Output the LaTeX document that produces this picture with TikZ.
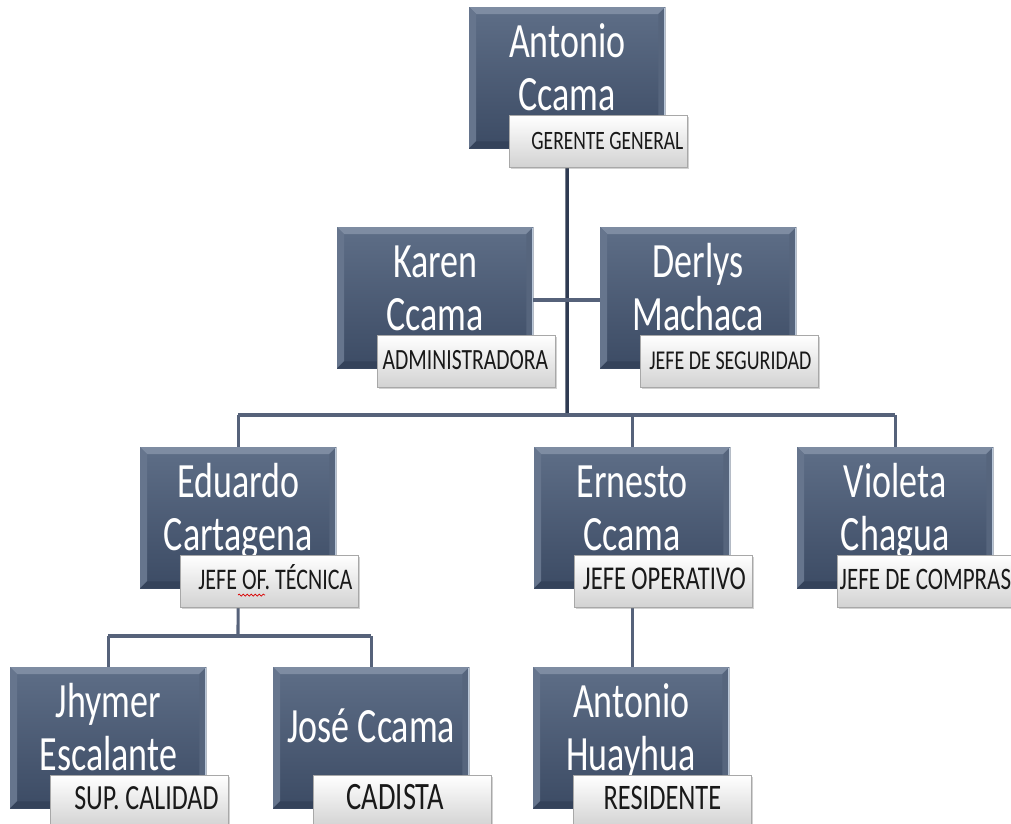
\documentclass[tikz,border=0pt]{standalone}
\usepackage{fontspec}
\setmainfont{Carlito}
\usetikzlibrary{calc,backgrounds,shadows,decorations.pathmorphing}
\definecolor{boxtop}{HTML}{5E6E87}
\definecolor{boxbot}{HTML}{3C4B64}
\definecolor{bevtop}{HTML}{7E8CA2}
\definecolor{bevleft}{HTML}{66758D}
\definecolor{bevright}{HTML}{56657D}
\definecolor{bevbot}{HTML}{34425A}
\definecolor{edgelight}{HTML}{B8C6D8}
\definecolor{lblbot}{HTML}{D2D2D2}
\definecolor{lbldraw}{HTML}{A8A8A8}
\definecolor{conncol}{HTML}{56627A}
\definecolor{mainline}{HTML}{2F3B52}
\tikzset{
  pbox/.style={rectangle, anchor=north west, minimum width=196pt, minimum height=141pt,
    inner sep=0pt, top color=boxtop, bottom color=boxbot, draw=none},
  lbox/.style={rectangle, anchor=north west, minimum width=178pt, minimum height=52pt,
    inner sep=0pt, top color=white, bottom color=lblbot, draw=lbldraw, line width=0.8pt,
    drop shadow={shadow xshift=1.5pt, shadow yshift=-1.5pt, opacity=0.35}},
  ntext/.style={text=white, font=\fontsize{36}{40}\selectfont, anchor=base, inner sep=0pt},
  ltext/.style={text=black!90, anchor=base, inner sep=0pt},
  conn/.style={line width=3.1pt, draw=conncol},
  mainconn/.style={line width=3.5pt, draw=mainline},
}
\newcommand\orgbevel[1]{%
  \fill[bevtop] (#1.north west) -- (#1.north east) -- ($(#1.north east)+(-7,7)$) -- ($(#1.north west)+(7,7)$) -- cycle;
  \fill[bevleft] (#1.north west) -- ($(#1.north west)+(7,7)$) -- ($(#1.south west)+(7,-7)$) -- (#1.south west) -- cycle;
  \fill[bevright] (#1.north east) -- ($(#1.north east)+(-7,7)$) -- ($(#1.south east)+(-7,-7)$) -- (#1.south east) -- cycle;
  \fill[bevbot] (#1.south west) -- ($(#1.south west)+(7,-7)$) -- ($(#1.south east)+(-7,-7)$) -- (#1.south east) -- cycle;
  \draw[edgelight, line width=1pt] ($(#1.north east)+(-0.5,1)$) -- ($(#1.south east)+(-0.5,0)$);
}
\newcommand\orgperson[8]{%
  \node[pbox] (#1) at (#2,#3) {};
  \orgbevel{#1}
  \node[ntext] (#1-a) at ($(#1.north)+(0,50)$) {\scalebox{1}[1.37]{#4}};
  \node[ntext] (#1-b) at ($(#1.north)+(0,103)$) {\scalebox{1}[1.37]{#5}};
  \node[lbox] (#1-l) at ($(#1.north west)+(40,108)$) {};
  \node[ltext, font=\fontsize{#8}{#8}\selectfont] (#1-lt) at ($(#1-l.north)+(#7,34.5)$) {\scalebox{1}[1.36]{#6}};
}
\newcommand\orgsingle[7]{%
  \node[pbox] (#1) at (#2,#3) {};
  \orgbevel{#1}
  \node[ntext] (#1-a) at ($(#1.north)+(0,75)$) {\scalebox{1}[1.37]{#4}};
  \node[lbox] (#1-l) at ($(#1.north west)+(40,108)$) {};
  \node[ltext, font=\fontsize{#7}{#7}\selectfont] (#1-lt) at ($(#1-l.north)+(#6,34.5)$) {\scalebox{1}[1.36]{#5}};
}
\begin{document}
\begin{tikzpicture}[x=1pt, y=-1pt]
\useasboundingbox (0,0) rectangle (1011,823);

\orgperson{ant}{469}{7}{Antonio}{Ccama}{GERENTE GENERAL}{9}{19.5}
\orgperson{kar}{337}{227}{Karen}{Ccama}{ADMINISTRADORA}{-1}{21.6}
\orgperson{der}{600}{227}{Derlys}{Machaca}{JEFE DE SEGURIDAD}{1}{20}
\orgperson{edu}{140}{447}{Eduardo}{Cartagena}{JEFE OF. TÉCNICA}{6}{22}
\orgperson{ern}{534}{447}{Ernesto}{Ccama}{JEFE OPERATIVO}{1}{24.5}
\orgperson{vio}{797}{447}{Violeta}{Chagua}{JEFE DE COMPRAS}{-1}{23}
\orgperson{jhy}{10}{667}{Jhymer}{Escalante}{SUP. CALIDAD}{7}{26}
\orgsingle{jos}{273}{667}{José Ccama}{CADISTA}{-7}{28.5}
\orgperson{hua}{533}{667}{Antonio}{Huayhua}{RESIDENTE}{0}{26.4}

% spelling squiggle under "OF."
\coordinate (sq1) at ($(edu-l.north west)+(58,40)$);
\coordinate (sq2) at ($(edu-l.north west)+(85,40)$);
\draw[red!85!black, line width=0.7pt, decorate, decoration={snake, amplitude=1pt, segment length=4pt}] (sq1) -- (sq2);

\begin{scope}[on background layer]
  \fill[white] (0,0) rectangle (1011,823);
  \coordinate (h3) at (567,415);
  \coordinate (h4) at (238,636);
  \coordinate (h2) at (567,300);
  \draw[mainconn] (ant.south) -- (h3);
  \draw[conn] (kar.east |- h2) -- (der.west |- h2);
  \draw[conn] (edu.north |- h3) -- (vio.north |- h3);
  \draw[conn] (edu.north |- h3) -- (edu.north);
  \draw[conn] (ern.north |- h3) -- (ern.north);
  \draw[conn] (vio.north |- h3) -- (vio.north);
  \draw[conn] (edu.south) -- (h4);
  \draw[conn] (jhy.north |- h4) -- (jos.north |- h4);
  \draw[conn] (jhy.north |- h4) -- (jhy.north);
  \draw[conn] (jos.north |- h4) -- (jos.north);
  \draw[conn] (ern.south) -- (ern.south |- hua.north);
\end{scope}
\end{tikzpicture}
\end{document}
